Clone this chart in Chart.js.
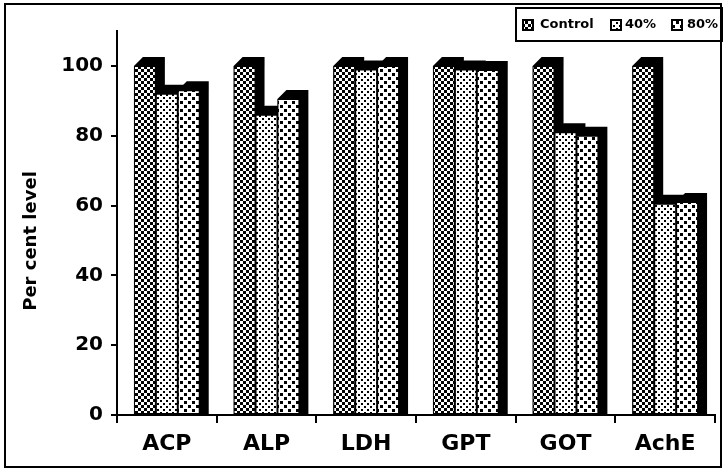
<!DOCTYPE html>
<html>
<head>
<meta charset="utf-8">
<script src="https://cdn.jsdelivr.net/npm/chart.js@4"></script>
<style>
  html, body { margin: 0; padding: 0; background: #fff; }
  #wrap { width: 723px; height: 470px; }
</style>
</head>
<body>
<div id="wrap"><canvas id="enzymes" width="723" height="470"></canvas></div>
<script>
const categories = ['ACP', 'ALP', 'LDH', 'GPT', 'GOT', 'AchE'];
const seriesNames = ['Control', '40%', '80%'];
const controlLevel = [100, 100, 100, 100, 100, 100];
const level40 = [92, 86, 99, 99, 81, 60.5];
const level80 = [93, 90.5, 100, 98.8, 80, 61];
const yTicks = [0, 20, 40, 60, 80, 100];

const FONT = 'DejaVu Sans, Verdana, sans-serif';
const DEPTH = 9;

// small tiles used as bar fills
function makePattern(size, paint) {
    const c = document.createElement('canvas');
    c.width = size; c.height = size;
    const g = c.getContext('2d');
    g.fillStyle = '#fff';
    g.fillRect(0, 0, size, size);
    g.fillStyle = '#000';
    paint(g);
    return document.getElementById('enzymes').getContext('2d').createPattern(c, 'repeat');
}

const checker = makePattern(6, g => {
    g.fillRect(0, 0, 3, 3);
    g.fillRect(3, 3, 3, 3);
});
const fineDots = makePattern(6, g => {
    g.fillRect(1, 1, 2, 2);
    g.fillRect(4, 4, 2, 2);
});
const coarseDots = makePattern(8, g => {
    g.fillRect(0, 1, 3, 3);
    g.fillRect(4, 5, 3, 3);
});
const fills = [checker, fineDots, coarseDots];

// black extruded block behind every bar
const depthPlugin = {
    id: 'depth',
    beforeDatasetsDraw(chart) {
        const ctx = chart.ctx;
        ctx.save();
        ctx.fillStyle = '#000';
        chart.data.datasets.forEach((ds, i) => {
            chart.getDatasetMeta(i).data.forEach(bar => {
                const L = bar.x - bar.width / 2;
                const R = bar.x + bar.width / 2;
                const T = bar.y;
                const B = bar.base;
                ctx.beginPath();
                ctx.moveTo(L, T);
                ctx.lineTo(L + DEPTH, T - DEPTH);
                ctx.lineTo(R + DEPTH, T - DEPTH);
                ctx.lineTo(R + DEPTH, B);
                ctx.lineTo(L, B);
                ctx.closePath();
                ctx.fill();
            });
        });
        ctx.restore();
    }
};

// frame, legend box and vertical axis title
const decorPlugin = {
    id: 'decor',
    afterDraw(chart) {
        const ctx = chart.ctx;
        ctx.save();
        ctx.strokeStyle = '#000';
        ctx.lineWidth = 2;
        ctx.strokeRect(5, 4, 716, 463);
        ctx.strokeRect(516, 8, 206, 33);

        ctx.font = 'bold 13px ' + FONT;
        ctx.textBaseline = 'middle';
        ctx.fillStyle = '#000';
        const items = [[523, 540], [611, 625], [672, 687]];
        chart.data.datasets.forEach((ds, i) => {
            const [bx, tx] = items[i];
            ctx.fillStyle = ds.backgroundColor;
            ctx.fillRect(bx, 20, 10, 10);
            ctx.lineWidth = 2;
            ctx.strokeRect(bx, 20, 10, 10);
            ctx.fillStyle = '#000';
            ctx.fillText(ds.label, tx, 25);
        });

        ctx.translate(31, 241);
        ctx.rotate(-Math.PI / 2);
        ctx.font = 'bold 18px ' + FONT;
        ctx.textAlign = 'center';
        ctx.fillText('Per cent level', 0, 0);
        ctx.restore();
    }
};

new Chart(document.getElementById('enzymes'), {
    type: 'bar',
    data: {
        labels: categories,
        datasets: [controlLevel, level40, level80].map((vals, i) => ({
            label: seriesNames[i],
            data: vals,
            backgroundColor: fills[i],
            borderColor: '#000',
            borderWidth: 1,
            borderSkipped: false,
            barPercentage: 1,
            categoryPercentage: 0.66
        }))
    },
    options: {
        responsive: false,
        animation: false,
        layout: { padding: { left: 0, right: 8, top: 31, bottom: 0 } },
        plugins: { legend: { display: false }, tooltip: { enabled: false } },
        scales: {
            x: {
                afterFit: s => { s.height = 55; },
                grid: { drawOnChartArea: false, color: '#000', lineWidth: 2, tickLength: 8 },
                border: { color: '#000', width: 2 },
                ticks: { color: '#000', padding: 8, font: { family: FONT, size: 22, weight: 'bold' } }
            },
            y: {
                min: 0,
                max: 110,
                afterFit: s => { s.width = 117; },
                afterBuildTicks: s => { s.ticks = yTicks.map(v => ({ value: v })); },
                grid: { drawOnChartArea: false, color: '#000', lineWidth: 2, tickLength: 6 },
                border: { color: '#000', width: 2 },
                ticks: { color: '#000', padding: 8, font: { family: FONT, size: 20, weight: 'bold' } }
            }
        }
    },
    plugins: [depthPlugin, decorPlugin]
});
</script>
</body>
</html>
